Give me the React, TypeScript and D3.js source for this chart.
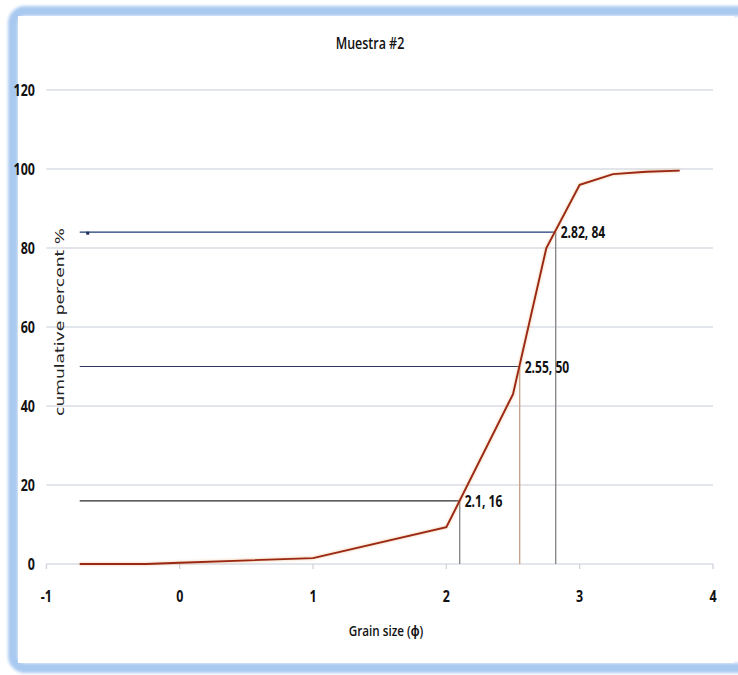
import React from "react";
import * as d3 from "d3";

const grainSize = [-0.75, -0.25, 0, 1, 2, 2.5, 2.75, 3, 3.25, 3.5, 3.75];
const cumPercent = [0, 0, 0.3, 1.5, 9.3, 43, 80, 96, 98.7, 99.3, 99.6];
const refX = [2.1, 2.55, 2.82];
const refY = [16, 50, 84];
const refLabels = ["2.1, 16", "2.55, 50", "2.82, 84"];
const refHColors = ["#2b2b2b", "#2f3b5c", "#1f3a7a"];
const refVColors = ["#8a8a8a", "#c9a488", "#8a8a8a"];
const refStartX = -0.75;
const xTicks = [-1, 0, 1, 2, 3, 4];
const yTicks = [0, 20, 40, 60, 80, 100, 120];
const markerPoint = { x: -0.69, y: 84 };

const W = 738;
const H = 675;

function CText({ x, y, children, size = 15, anchor = "middle", weight = 600, sx = 0.78, fill = "#111" }: any) {
  return (
    <text
      transform={`translate(${x},${y}) scale(${sx},1)`}
      textAnchor={anchor}
      fontFamily="'Open Sans', 'Liberation Sans', sans-serif"
      fontSize={size}
      fontWeight={weight}
      fill={fill}
    >
      {children}
    </text>
  );
}

export default function App() {
  const x = d3.scaleLinear().domain([-1, 4]).range([46.4, 713]);
  const y = d3.scaleLinear().domain([0, 120]).range([564, 90]);
  const line = d3
    .line<number>()
    .x((_, i) => x(grainSize[i]))
    .y((d) => y(d));

  return (
    <svg
      width={W}
      height={H}
      style={{ position: "absolute", left: 0, top: 0, background: "#fff" }}
    >
      <defs>
        <filter id="blur" x="-5%" y="-5%" width="110%" height="110%">
          <feGaussianBlur stdDeviation="1.6" />
        </filter>
        <filter id="shadow" x="-5%" y="-5%" width="110%" height="110%">
          <feGaussianBlur stdDeviation="0.8" />
        </filter>
      </defs>
      <rect x={0} y={0} width={W} height={H} fill="#fff" />
      {/* frame */}
      <rect
        x={13}
        y={11}
        width={740}
        height={657}
        rx={12}
        fill="none"
        stroke="#a9c9f0"
        strokeWidth={10}
        filter="url(#blur)"
      />
      <rect x={18} y={16} width={716} height={647} fill="#fff" />

      {/* title */}
      <CText x={370} y={49} size={16} weight={600}>
        Muestra #2
      </CText>

      {/* gridlines */}
      {yTicks.map((t) => (
        <line
          key={"g" + t}
          x1={x(-1)}
          x2={x(4)}
          y1={y(t)}
          y2={y(t)}
          stroke="#d9dce3"
          strokeWidth={1.3}
        />
      ))}
      {/* x ticks */}
      {xTicks.map((t) => (
        <line
          key={"t" + t}
          x1={x(t)}
          x2={x(t)}
          y1={y(0)}
          y2={y(0) + 5}
          stroke="#d0d3da"
          strokeWidth={1.3}
        />
      ))}

      {/* y tick labels */}
      {yTicks.map((t) => (
        <CText key={"yl" + t} x={35} y={y(t) + 6} anchor="end" size={16} weight={700}>
          {t}
        </CText>
      ))}
      {/* x tick labels */}
      {xTicks.map((t) => (
        <CText key={"xl" + t} x={x(t)} y={602} size={16} weight={700}>
          {t}
        </CText>
      ))}

      {/* axis titles */}
      <CText x={386} y={636} size={15} weight={600}>
        Grain size (ϕ)
      </CText>
      <text
        transform={`translate(64,${322}) rotate(-90)`}
        textAnchor="middle"
        fontFamily="'DejaVu Sans', Verdana, sans-serif"
        fontSize={12}
        fontWeight={400}
        fill="#222"
        textLength={188}
        lengthAdjust="spacingAndGlyphs"
      >
        cumulative percent %
      </text>

      {/* reference lines */}
      {refY.map((v, i) => (
        <g key={"r" + i}>
          <line
            x1={x(refStartX)}
            x2={x(refX[i])}
            y1={y(v)}
            y2={y(v)}
            stroke={refHColors[i]}
            strokeWidth={1.2}
          />
          <line
            x1={x(refX[i])}
            x2={x(refX[i])}
            y1={y(v)}
            y2={y(0)}
            stroke={refVColors[i]}
            strokeWidth={1.4}
          />
        </g>
      ))}
      <rect
        x={x(markerPoint.x) - 1.5}
        y={y(markerPoint.y) - 0.5}
        width={3}
        height={3}
        fill="#1f2f55"
      />

      {/* curve */}
      <path
        d={line(cumPercent) || ""}
        fill="none"
        stroke="#e8b080"
        strokeWidth={3}
        opacity={0.5}
        filter="url(#shadow)"
      />
      <path d={line(cumPercent) || ""} fill="none" stroke="#9a2812" strokeWidth={1.9} />

      {/* ref labels */}
      {refY.map((v, i) => (
        <CText key={"lab" + i} x={x(refX[i]) + 5} y={y(v) + 6} anchor="start" size={15.5} weight={700}>
          {refLabels[i]}
        </CText>
      ))}
    </svg>
  );
}
